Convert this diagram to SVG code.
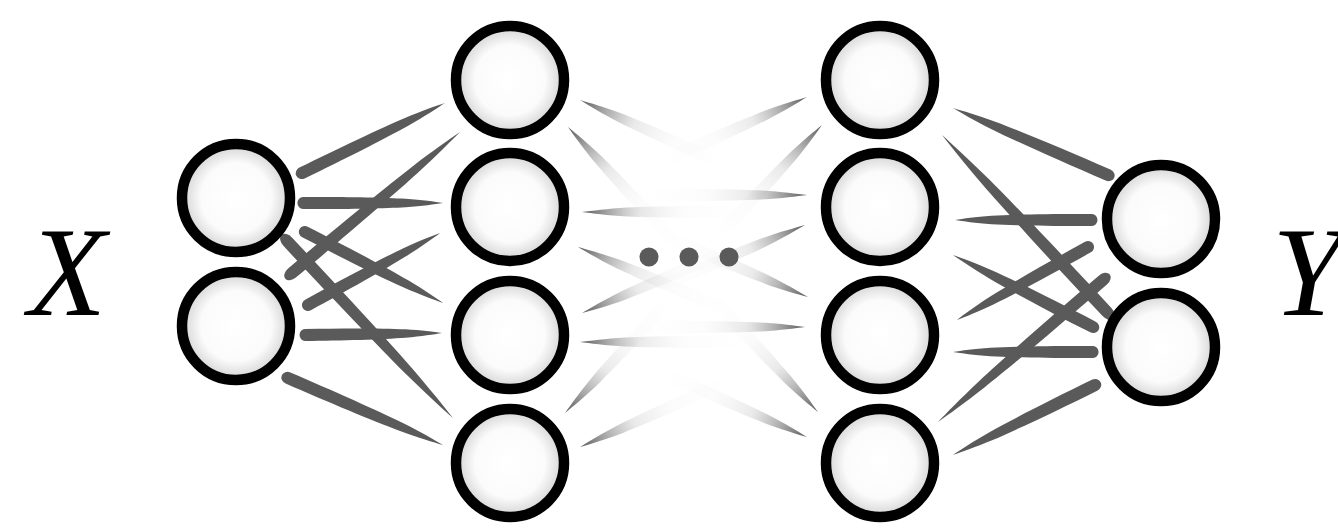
<svg xmlns="http://www.w3.org/2000/svg" xmlns:xlink="http://www.w3.org/1999/xlink" width="1338" height="531" viewBox="0 0 1338 531">
  <style>
    .node { stroke: #000; stroke-width: 10.5; fill: url(#nodeFill); }
    .brush { fill: #5a5a5a; }
    .fade { fill: url(#fadeGrad); }
    .label { font-family: "Liberation Serif", "Times New Roman", serif; font-style: italic; font-size: 128px; fill: #000; }
    .dot { fill: #5a5a5a; }
  </style>
  <defs>
    <radialGradient id="nodeFill" cx="0.5" cy="0.5" r="0.5">
      <stop offset="0" stop-color="#ffffff"/>
      <stop offset="0.65" stop-color="#fbfbfb"/>
      <stop offset="1" stop-color="#d2d2d2"/>
    </radialGradient>
    <linearGradient id="fadeGrad" x1="0" y1="0" x2="1" y2="0">
      <stop offset="0" stop-color="#5a5a5a" stop-opacity="1"/>
      <stop offset="0.15" stop-color="#666666" stop-opacity="0.6"/>
      <stop offset="0.35" stop-color="#8a8a8a" stop-opacity="0.18"/>
      <stop offset="0.6" stop-color="#bbbbbb" stop-opacity="0.05"/>
      <stop offset="1" stop-color="#dddddd" stop-opacity="0"/>
    </linearGradient>
    <path id="brush" class="brush" d="M0,-6 C40,-6.2 85,-5.6 110,-4.2 C128,-3 141,-1.3 150,0 C141,1.3 128,3 110,4.2 C85,5.6 40,6.2 0,6 A6 6 0 0 1 0,-6 Z"/>
    <path id="fade" class="fade" d="M0,0 C10,-1.3 25,-3.4 45,-4.6 C80,-6 130,-6.5 170,-6.5 L170,6.5 C130,6.5 80,6 45,4.6 C25,3.4 10,1.3 0,0 Z"/>
  </defs>

  <g id="connectors">
    <!-- input layer to hidden layer 1 -->
    <use xlink:href="#brush" transform="translate(302,173) rotate(-26.08) scale(1.061,1)"/>
    <use xlink:href="#brush" transform="translate(303,203) rotate(0) scale(0.933,1)"/>
    <use xlink:href="#brush" transform="translate(305,232) rotate(27.22) scale(1.035,1)"/>
    <use xlink:href="#brush" transform="translate(288,242) rotate(46.85) scale(1.608,1)"/>
    <use xlink:href="#brush" transform="translate(292,273) rotate(-40.0) scale(1.462,1)"/>
    <use xlink:href="#brush" transform="translate(308,305) rotate(-28.6) scale(1.003,1)"/>
    <use xlink:href="#brush" transform="translate(305,335) rotate(-0.84) scale(0.913,1)"/>
    <use xlink:href="#brush" transform="translate(288,378) rotate(23.38) scale(1.126,1)"/>
    <!-- hidden layer 2 to output layer -->
    <use xlink:href="#brush" transform="translate(1108,175) rotate(-156.62) scale(1.126,1)"/>
    <use xlink:href="#brush" transform="translate(1107,312) rotate(-133.0) scale(1.613,1)"/>
    <use xlink:href="#brush" transform="translate(1092,220) rotate(180) scale(0.913,1)"/>
    <use xlink:href="#brush" transform="translate(1093,327) rotate(-152.8) scale(1.049,1)"/>
    <use xlink:href="#brush" transform="translate(1088,247) rotate(150.9) scale(1.0,1)"/>
    <use xlink:href="#brush" transform="translate(1093,352) rotate(180) scale(0.933,1)"/>
    <use xlink:href="#brush" transform="translate(1103,280) rotate(139.3) scale(1.451,1)"/>
    <use xlink:href="#brush" transform="translate(1095,385) rotate(153.8) scale(1.055,1)"/>
    <!-- fading connectors out of hidden layer 1 -->
    <use xlink:href="#fade" transform="translate(580,100) rotate(24)"/>
    <use xlink:href="#fade" transform="translate(568,127) rotate(47)"/>
    <use xlink:href="#fade" transform="translate(582,212) rotate(0)"/>
    <use xlink:href="#fade" transform="translate(578,247) rotate(23)"/>
    <use xlink:href="#fade" transform="translate(582,313) rotate(-23)"/>
    <use xlink:href="#fade" transform="translate(580,342) rotate(0)"/>
    <use xlink:href="#fade" transform="translate(565,413) rotate(-47)"/>
    <use xlink:href="#fade" transform="translate(580,447) rotate(-24)"/>
    <!-- fading connectors into hidden layer 2 -->
    <use xlink:href="#fade" transform="translate(807,97) rotate(156)"/>
    <use xlink:href="#fade" transform="translate(822,125) rotate(133)"/>
    <use xlink:href="#fade" transform="translate(807,195) rotate(180)"/>
    <use xlink:href="#fade" transform="translate(805,225) rotate(157)"/>
    <use xlink:href="#fade" transform="translate(808,297) rotate(-157)"/>
    <use xlink:href="#fade" transform="translate(805,327) rotate(180)"/>
    <use xlink:href="#fade" transform="translate(818,412) rotate(-133)"/>
    <use xlink:href="#fade" transform="translate(807,437) rotate(-156)"/>
  </g>

  <g id="input-1"><circle class="node" cx="236" cy="198" r="54"/></g>
  <g id="input-2"><circle class="node" cx="236" cy="326" r="54"/></g>

  <g id="hidden1-1"><circle class="node" cx="510" cy="80" r="54"/></g>
  <g id="hidden1-2"><circle class="node" cx="510" cy="207" r="54"/></g>
  <g id="hidden1-3"><circle class="node" cx="510" cy="335" r="54"/></g>
  <g id="hidden1-4"><circle class="node" cx="510" cy="463" r="54"/></g>

  <g id="ellipsis">
    <circle class="dot" cx="649" cy="257" r="9.5"/>
    <circle class="dot" cx="689" cy="257" r="9.5"/>
    <circle class="dot" cx="729" cy="257" r="9.5"/>
  </g>

  <g id="hidden2-1"><circle class="node" cx="880" cy="80" r="54"/></g>
  <g id="hidden2-2"><circle class="node" cx="880" cy="207" r="54"/></g>
  <g id="hidden2-3"><circle class="node" cx="880" cy="335" r="54"/></g>
  <g id="hidden2-4"><circle class="node" cx="880" cy="463" r="54"/></g>

  <g id="output-1"><circle class="node" cx="1161" cy="219" r="54"/></g>
  <g id="output-2"><circle class="node" cx="1161" cy="347" r="54"/></g>

  <g id="label-x"><text class="label" x="28" y="315">X</text></g>
  <g id="label-y"><text class="label" x="1272" y="315">Y</text></g>
</svg>
